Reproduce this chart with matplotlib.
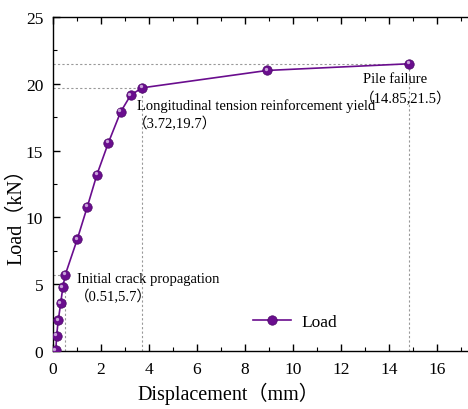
import numpy as np
from matplotlib import pyplot as plt
from matplotlib.ticker import MultipleLocator
from matplotlib.transforms import offset_copy

# Load-displacement data
disp = [0.12, 0.15, 0.22, 0.32, 0.41, 0.51, 1.01, 1.43, 1.83, 2.31, 2.82, 3.24, 3.72, 8.93, 14.85]
load = [0.05, 1.14, 2.31, 3.56, 4.78, 5.7, 8.36, 10.8, 13.2, 15.6, 17.9, 19.16, 19.7, 21.0, 21.5]

# key points and their notes
key_x = [0.51, 3.72, 14.85]
key_y = [5.7, 19.7, 21.5]
key_names = ['Initial crack propagation', 'Longitudinal tension reinforcement yield', 'Pile failure']
key_coords = ['（0.51,5.7）', '（3.72,19.7）', '（14.85,21.5）']

fonts = ['Liberation Serif', 'Noto Sans CJK SC']
plt.rcParams['font.family'] = fonts

fig = plt.figure(figsize=(4.68, 4.10), dpi=100)
ax = fig.add_axes([53/468, 58/410, 432/468, 334/410])

purple = '#6A0D8E'
for kx, ky in zip(key_x, key_y):
    ax.plot([0, kx], [ky, ky], color='#999999', ls=(0, (2, 2)), lw=0.8, zorder=1)
    ax.plot([kx, kx], [0, ky], color='#999999', ls=(0, (2, 2)), lw=0.8, zorder=1)

ax.plot(disp, load, color=purple, lw=1.2, marker='o', ms=6.8,
        mfc=purple, mec='#4A0866', mew=0.5, label='Load', zorder=3)
# highlight for the shiny marker look
shine = offset_copy(ax.transData, fig=fig, x=-1.0, y=1.0, units='points')
ax.plot(disp, load, ls='none', marker='o', ms=2.4, mfc='#C9A3DA', mec='none',
        transform=shine, zorder=4)

offs = [(0.5, -0.25, 0.4, -1.6), (-0.2, -1.3, -0.4, -2.6), (-1.95, -1.1, -2.05, -2.55)]
for kx, ky, nm, cd, (dx1, dy1, dx2, dy2) in zip(key_x, key_y, key_names, key_coords, offs):
    ax.text(kx + dx1, ky + dy1, nm, fontsize=10.5, va='center', ha='left', family=fonts)
    ax.text(kx + dx2, ky + dy2, cd, fontsize=10.5, va='center', ha='left', family=fonts)

ax.set_xlim(0, 18)
ax.set_ylim(0, 25)
ax.set_xticks([0, 2, 4, 6, 8, 10, 12, 14, 16])
ax.xaxis.set_minor_locator(MultipleLocator(1))
ax.yaxis.set_major_locator(MultipleLocator(5))
ax.yaxis.set_minor_locator(MultipleLocator(2.5))
ax.tick_params(which='both', direction='in', top=True, right=True, labelsize=12.5, pad=7)
ax.tick_params(which='major', length=5, width=1)
ax.tick_params(which='minor', length=3, width=0.8)
for s in ax.spines.values():
    s.set_linewidth(1)

ax.set_xlabel('Displacement（mm）', fontsize=14.5, va='center')
ax.set_ylabel('Load（kN）', fontsize=14.5, va='center')
ax.xaxis.set_label_coords(0.407, -0.125)
ax.yaxis.set_label_coords(-0.083, 0.42)

ax.legend(loc='center', bbox_to_anchor=(0.56, 0.087), frameon=False,
          fontsize=12.5, handlelength=2.2, handletextpad=0.6)

fig.savefig('out.png', dpi=100)
